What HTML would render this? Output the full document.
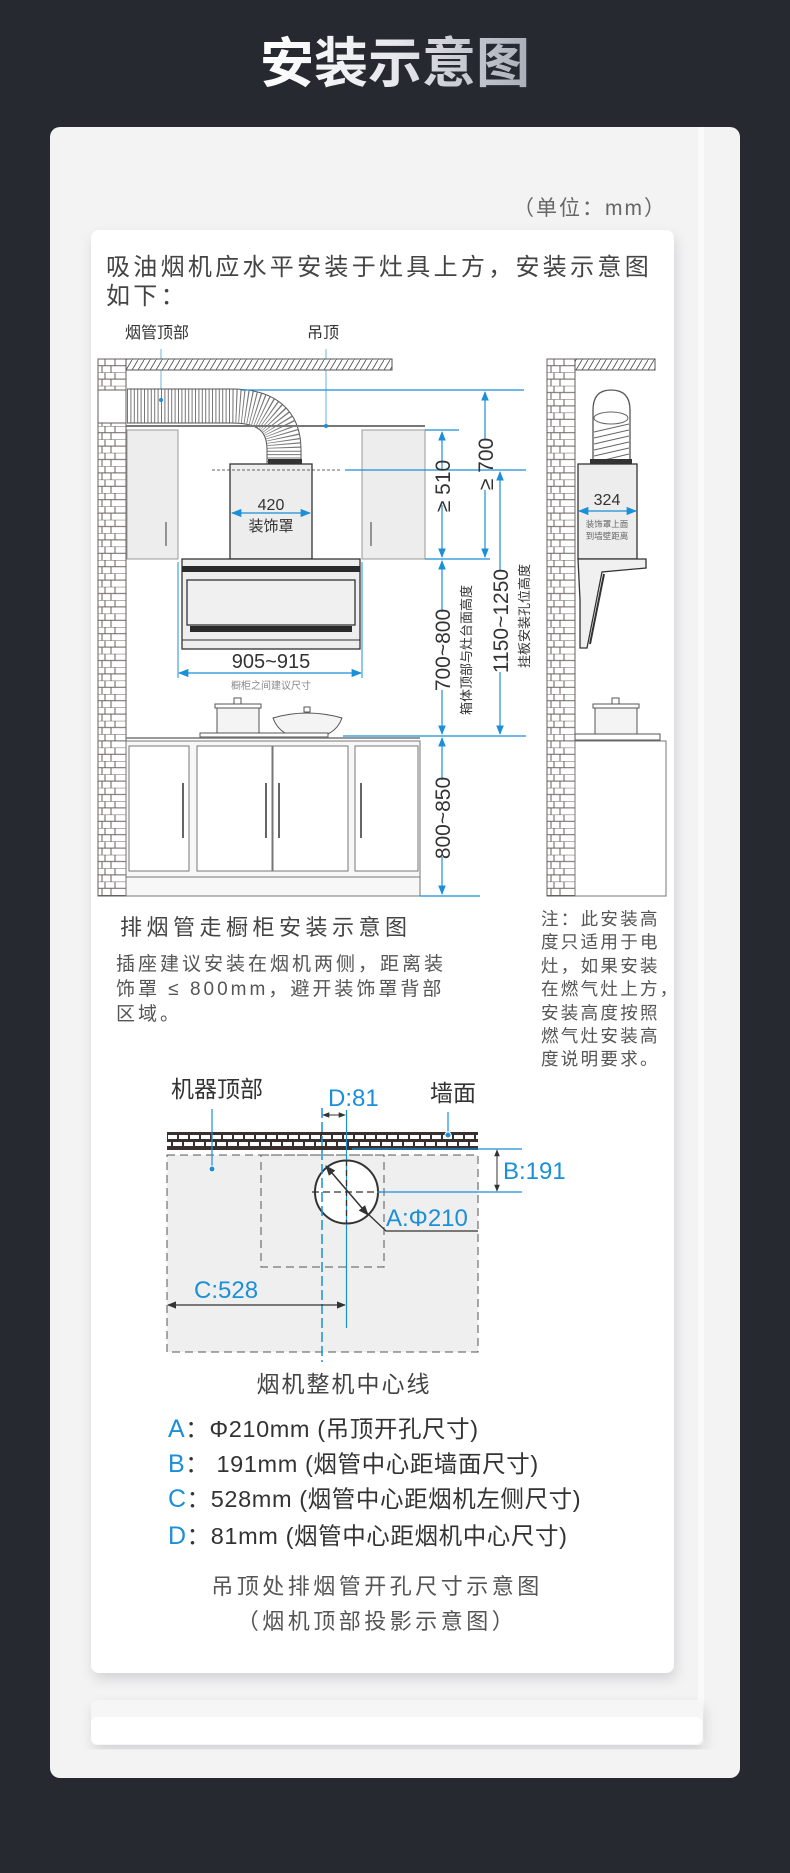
<!DOCTYPE html>
<html><head><meta charset="utf-8"><style>
html,body{margin:0;padding:0;background:#262930;}
svg{display:block}
text{font-family:"Liberation Sans","Noto Sans CJK SC",sans-serif;}
</style></head><body>
<svg width="790" height="1873" viewBox="0 0 790 1873" xmlns="http://www.w3.org/2000/svg">
<defs>
<linearGradient id="tg" x1="0" y1="0" x2="1" y2="0"><stop offset="0" stop-color="#ffffff"/><stop offset="0.5" stop-color="#e6e8ec"/><stop offset="1" stop-color="#a9aeb8"/></linearGradient>
<filter id="sh" x="-10%" y="-10%" width="120%" height="120%"><feDropShadow dx="2" dy="6" stdDeviation="6" flood-color="#000" flood-opacity="0.13"/></filter>
<pattern id="brick" x="98" y="359" width="28" height="13.4" patternUnits="userSpaceOnUse">
<rect width="28" height="13.4" fill="#fff"/>
<path d="M0 0H28M0 6.7H28M7 0V6.7M17 0V6.7M4 6.7V13.4M13 6.7V13.4" stroke="#6a5f5f" stroke-width="1" fill="none"/>
</pattern>
<pattern id="brick2" x="547" y="359" width="28" height="13.4" patternUnits="userSpaceOnUse">
<rect width="28" height="13.4" fill="#fff"/>
<path d="M0 0H28M0 6.7H28M7 0V6.7M17 0V6.7M4 6.7V13.4M13 6.7V13.4" stroke="#6a5f5f" stroke-width="1" fill="none"/>
</pattern>
<pattern id="hatch" width="6" height="10" patternUnits="userSpaceOnUse">
<rect width="6" height="10" fill="#fff"/><path d="M0 10L6 0" stroke="#555" stroke-width="0.9"/>
</pattern>
<pattern id="tb" x="167" y="1132" width="22" height="18" patternUnits="userSpaceOnUse">
<rect width="22" height="18" fill="#3a2f2f"/>
<rect x="1" y="3" width="9" height="4" fill="#fff"/><rect x="12" y="3" width="9" height="4" fill="#fff"/>
<rect x="6" y="10" width="9" height="4" fill="#fff"/><rect x="17" y="10" width="5" height="4" fill="#fff"/><rect x="0" y="10" width="4" height="4" fill="#fff"/>
</pattern>
<marker id="ab" viewBox="0 0 10 10" refX="9" refY="5" markerWidth="8" markerHeight="8" orient="auto-start-reverse"><path d="M0 1L10 5L0 9z" fill="#1b8fd8"/></marker>
<marker id="ak" viewBox="0 0 10 10" refX="9" refY="5" markerWidth="7" markerHeight="7" orient="auto-start-reverse"><path d="M0 1L10 5L0 9z" fill="#333"/></marker>
</defs>

<!-- title -->
<text x="395" y="82" font-size="54" font-weight="bold" fill="url(#tg)" text-anchor="middle">安装示意图</text>

<!-- cards -->
<rect x="50" y="127" width="690" height="1651" rx="10" fill="#f3f3f4"/>
<rect x="698" y="127" width="6" height="1618" fill="#fafafa"/>
<rect x="91" y="1700" width="612" height="45" rx="6" fill="#f6f6f6" filter="url(#sh)"/>
<rect x="91" y="1717" width="611" height="27" rx="6" fill="#fff"/>
<rect x="91" y="230" width="583" height="1443" rx="8" fill="#fff" filter="url(#sh)"/>

<text x="667" y="215" font-size="21" fill="#666" text-anchor="end" letter-spacing="2">（单位：mm）</text>
<text x="106" y="275" font-size="24" fill="#444" letter-spacing="3.3">吸油烟机应水平安装于灶具上方，安装示意图</text>
<text x="106" y="304" font-size="24" fill="#444" letter-spacing="3.3">如下：</text>

<text x="125" y="338" font-size="16" fill="#333">烟管顶部</text>
<text x="307" y="338" font-size="16" fill="#333">吊顶</text>
<line x1="161" y1="349" x2="161" y2="400" stroke="#6cb3e6" stroke-width="1"/>
<line x1="326" y1="349" x2="326" y2="426" stroke="#6cb3e6" stroke-width="1"/>

<!-- left wall -->
<rect x="98" y="359" width="28" height="537" fill="url(#brick)" stroke="#6a5f5f"/>
<rect x="126" y="359" width="266" height="11" fill="url(#hatch)" stroke="#555"/>
<rect x="98" y="390" width="28" height="33" fill="#fff" stroke="#6a5f5f"/>

<!-- duct -->
<path d="M127 406 L232 406 Q284 406 284 450 L284 464" fill="none" stroke="#555" stroke-width="35"/>
<path d="M127 406 L232 406 Q284 406 284 450 L284 464" fill="none" stroke="#fff" stroke-width="33"/>
<path d="M127 406 L232 406 Q284 406 284 450 L284 464" fill="none" stroke="#777" stroke-width="33" stroke-dasharray="1 2.4"/>
<circle cx="161" cy="400" r="2" fill="#1b8fd8"/>
<line x1="126" y1="426" x2="425" y2="426" stroke="#777" stroke-width="2"/>
<circle cx="326" cy="426" r="2" fill="#1b8fd8"/>
<!-- upper cabinets -->
<rect x="127" y="430" width="51" height="129" fill="#ededed" stroke="#999"/>
<line x1="166" y1="522" x2="166" y2="546" stroke="#777" stroke-width="1.5"/>
<rect x="362" y="430" width="63" height="129" fill="#ededed" stroke="#999"/>
<line x1="371" y1="522" x2="371" y2="546" stroke="#777" stroke-width="1.5"/>
<!-- cover -->
<rect x="268" y="459" width="34" height="5" fill="#333"/>
<rect x="230" y="464" width="82" height="95" fill="#ededed" stroke="#333" stroke-width="1.3"/>
<line x1="212" y1="470" x2="340" y2="470" stroke="#333" stroke-dasharray="3 2" stroke-width="0.8"/>
<text x="271" y="510" font-size="16" fill="#333" text-anchor="middle">420</text>
<line x1="232" y1="513" x2="310" y2="513" stroke="#1b8fd8" stroke-width="1.3" marker-start="url(#ab)" marker-end="url(#ab)"/>
<text x="271" y="531" font-size="15" fill="#333" text-anchor="middle">装饰罩</text>
<!-- hood -->
<rect x="182" y="559" width="178" height="90" fill="#eeeeee" stroke="#333" stroke-width="1.3"/>
<rect x="182" y="566" width="178" height="6" fill="#2a2a2a"/>
<rect x="187" y="580" width="168" height="45" fill="#f0f0f0" stroke="#333" stroke-width="1.3"/>
<rect x="190" y="626" width="162" height="6" fill="#2a2a2a"/>
<line x1="182" y1="640" x2="360" y2="640" stroke="#333"/>
<line x1="178" y1="562" x2="178" y2="678" stroke="#1b8fd8"/>
<line x1="362" y1="562" x2="362" y2="678" stroke="#1b8fd8"/>
<text x="271" y="668" font-size="20" fill="#333" text-anchor="middle">905~915</text>
<line x1="179" y1="673" x2="361" y2="673" stroke="#1b8fd8" stroke-width="1.3" marker-start="url(#ab)" marker-end="url(#ab)"/>
<text x="271" y="689" font-size="10" fill="#888" text-anchor="middle">橱柜之间建议尺寸</text>
<!-- pot & wok -->
<rect x="217" y="707" width="42" height="28" fill="#f4f4f4" stroke="#555"/>
<rect x="215" y="704" width="46" height="4" fill="#fff" stroke="#555"/>
<rect x="234" y="698" width="7" height="6" fill="#fff" stroke="#555"/>
<path d="M273 718 Q307 708 342 718 Q335 738 307 738 Q280 738 273 718z" fill="#f4f4f4" stroke="#555"/>
<rect x="304" y="707" width="6" height="5" fill="#fff" stroke="#555"/>
<rect x="200" y="733" width="128" height="4" fill="#fff" stroke="#555"/>
<!-- lower cabinet -->
<rect x="126" y="741" width="294" height="155" fill="#f7f7f7" stroke="#777"/>
<line x1="126" y1="738" x2="420" y2="738" stroke="#777" stroke-width="1.5"/>
<rect x="129" y="746" width="60" height="125" fill="#fff" stroke="#777"/>
<rect x="197" y="746" width="75" height="125" fill="#fff" stroke="#777"/>
<rect x="273" y="746" width="75" height="125" fill="#fff" stroke="#777"/>
<rect x="355" y="746" width="63" height="125" fill="#fff" stroke="#777"/>
<line x1="126" y1="877" x2="420" y2="877" stroke="#777"/>
<line x1="183" y1="783" x2="183" y2="838" stroke="#666" stroke-width="2"/>
<line x1="266" y1="783" x2="266" y2="838" stroke="#666" stroke-width="2"/>
<line x1="279" y1="783" x2="279" y2="838" stroke="#666" stroke-width="2"/>
<line x1="361" y1="783" x2="361" y2="838" stroke="#666" stroke-width="2"/>

<!-- blue dims -->
<g stroke="#1b8fd8" stroke-width="1.2" fill="none">
<line x1="241" y1="390" x2="524" y2="390"/>
<line x1="425" y1="430" x2="459" y2="430"/>
<line x1="345" y1="470" x2="526" y2="470"/>
<line x1="425" y1="559" x2="490" y2="559"/>
<line x1="343" y1="736" x2="526" y2="736"/>
<line x1="420" y1="896" x2="480" y2="896"/>
<line x1="442" y1="432" x2="442" y2="469" marker-start="url(#ab)"/>
<line x1="442" y1="505" x2="442" y2="557" marker-end="url(#ab)"/>
<line x1="485" y1="392" x2="485" y2="440" marker-start="url(#ab)"/>
<line x1="485" y1="490" x2="485" y2="557" marker-end="url(#ab)"/>
<line x1="442" y1="561" x2="442" y2="612" marker-start="url(#ab)"/>
<line x1="442" y1="690" x2="442" y2="734" marker-end="url(#ab)"/>
<line x1="500" y1="472" x2="500" y2="570" marker-start="url(#ab)"/>
<line x1="500" y1="672" x2="500" y2="734" marker-end="url(#ab)"/>
<line x1="442" y1="738" x2="442" y2="780" marker-start="url(#ab)"/>
<line x1="442" y1="857" x2="442" y2="894" marker-end="url(#ab)"/>
</g>
<g font-size="21" fill="#333" text-anchor="middle">
<text transform="translate(450,486) rotate(-90)">≥ 510</text>
<text transform="translate(493,464) rotate(-90)">≥ 700</text>
<text transform="translate(450,650) rotate(-90)">700~800</text>
<text transform="translate(508,621) rotate(-90)">1150~1250</text>
<text transform="translate(450,818) rotate(-90)">800~850</text>
</g>
<text transform="translate(471,650) rotate(-90)" font-size="13" fill="#333" text-anchor="middle">箱体顶部与灶台面高度</text>
<text transform="translate(529,616) rotate(-90)" font-size="13" fill="#333" text-anchor="middle">挂板安装孔位高度</text>

<!-- right side view -->
<rect x="547" y="359" width="28" height="537" fill="url(#brick2)" stroke="#6a5f5f"/>
<rect x="575" y="359" width="80" height="11" fill="url(#hatch)" stroke="#555"/>
<path d="M593 461 L593 410 Q593 390 611 390 Q630 390 630 410 L630 461" fill="#fff" stroke="#555" stroke-width="1.3"/>
<g stroke="#666" stroke-width="1"><line x1="594" y1="432" x2="629" y2="424"/><line x1="594" y1="438" x2="629" y2="430"/><line x1="594" y1="444" x2="629" y2="436"/><line x1="594" y1="450" x2="629" y2="442"/><line x1="594" y1="456" x2="629" y2="448"/><line x1="600" y1="461" x2="629" y2="454"/></g>
<ellipse cx="611" cy="418" rx="17" ry="6" fill="none" stroke="#666"/>
<rect x="590" y="459" width="42" height="5" fill="#333"/>
<rect x="578" y="464" width="59" height="95" fill="#ededed" stroke="#333" stroke-width="1.3"/>
<text x="607" y="505" font-size="16" fill="#333" text-anchor="middle">324</text>
<line x1="579" y1="511" x2="636" y2="511" stroke="#1b8fd8" stroke-width="1.3" marker-start="url(#ab)" marker-end="url(#ab)"/>
<text x="607" y="527" font-size="8.5" fill="#666" text-anchor="middle">装饰罩上面</text>
<text x="607" y="539" font-size="8.5" fill="#666" text-anchor="middle">到墙壁距离</text>
<polygon points="578,559 646,559 646,568 602,572 587,648 580,648 580,600" fill="#f0f0f0" stroke="#333" stroke-width="1.3"/>
<line x1="604" y1="574" x2="590" y2="644" stroke="#333" stroke-width="2"/>
<rect x="595" y="707" width="42" height="28" fill="#f4f4f4" stroke="#555"/>
<rect x="593" y="704" width="46" height="4" fill="#fff" stroke="#555"/>
<rect x="612" y="698" width="7" height="6" fill="#fff" stroke="#555"/>
<rect x="575" y="734" width="85" height="6" fill="#fff" stroke="#555"/>
<rect x="575" y="741" width="91" height="155" fill="#fff" stroke="#777"/>

<!-- texts -->
<text x="120" y="935" font-size="22" fill="#444" letter-spacing="4.5">排烟管走橱柜安装示意图</text>
<g font-size="19" fill="#555" letter-spacing="3">
<text x="116" y="970">插座建议安装在烟机两侧，距离装</text>
<text x="116" y="995">饰罩 ≤ 800mm，避开装饰罩背部</text>
<text x="116" y="1020">区域。</text>
</g>
<g font-size="17.5" fill="#555" letter-spacing="2.3">
<text x="541" y="925">注：此安装高</text>
<text x="541" y="948">度只适用于电</text>
<text x="541" y="972">灶，如果安装</text>
<text x="541" y="995">在燃气灶上方，</text>
<text x="541" y="1019">安装高度按照</text>
<text x="541" y="1042">燃气灶安装高</text>
<text x="541" y="1065">度说明要求。</text>
</g>

<!-- top view -->
<text x="171" y="1097" font-size="23" fill="#333">机器顶部</text>
<text x="328" y="1106" font-size="24" fill="#1b8fd8">D:81</text>
<text x="430" y="1101" font-size="23" fill="#333">墙面</text>
<rect x="167" y="1132" width="311" height="18" fill="url(#tb)"/>
<rect x="167" y="1155" width="311" height="197" fill="#efefef" stroke="#555" stroke-dasharray="8 5"/>
<rect x="261" y="1155" width="123" height="112" fill="none" stroke="#555" stroke-dasharray="8 5"/>
<circle cx="346.5" cy="1192" r="31.5" fill="#fff" stroke="#333" stroke-width="2"/>
<line x1="312" y1="1192" x2="381" y2="1192" stroke="#333" stroke-width="1.3" stroke-dasharray="7 4"/>
<line x1="322" y1="1108" x2="322" y2="1362" stroke="#1b8fd8" stroke-width="1.5" stroke-dasharray="10 4"/>
<line x1="346.5" y1="1110" x2="346.5" y2="1328" stroke="#1b8fd8" stroke-width="1.2"/>
<line x1="346.5" y1="1160" x2="346.5" y2="1224" stroke="#333" stroke-width="1.3" stroke-dasharray="6 4"/>
<line x1="323" y1="1115" x2="345" y2="1115" stroke="#333" stroke-width="1" marker-start="url(#ak)" marker-end="url(#ak)"/>
<line x1="352" y1="1149" x2="522" y2="1149" stroke="#1b8fd8" stroke-width="1.2"/>
<line x1="377" y1="1192" x2="522" y2="1192" stroke="#1b8fd8" stroke-width="1.2"/>
<line x1="497" y1="1150" x2="497" y2="1191" stroke="#333" stroke-width="1" marker-start="url(#ak)" marker-end="url(#ak)"/>
<text x="503" y="1179" font-size="24" fill="#1b8fd8">B:191</text>
<line x1="326" y1="1166" x2="368" y2="1215" stroke="#333" stroke-width="1.5" marker-start="url(#ak)" marker-end="url(#ak)"/>
<polyline points="366,1212 386,1231 478,1231" fill="none" stroke="#333" stroke-width="1.3"/>
<text x="386" y="1226" font-size="24" fill="#1b8fd8">A:Φ210</text>
<text x="194" y="1298" font-size="24" fill="#1b8fd8">C:528</text>
<line x1="168" y1="1305" x2="345" y2="1305" stroke="#333" stroke-width="1.3" marker-start="url(#ak)" marker-end="url(#ak)"/>
<line x1="212" y1="1109" x2="212" y2="1169" stroke="#1b8fd8" stroke-width="1.2"/>
<circle cx="212" cy="1169" r="3" fill="#1b8fd8" stroke="#fff" stroke-width="1"/>
<line x1="448" y1="1112" x2="448" y2="1135" stroke="#1b8fd8" stroke-width="1.2"/>
<circle cx="448" cy="1135" r="3" fill="#1b8fd8" stroke="#fff" stroke-width="1"/>
<text x="344" y="1392" font-size="23" fill="#444" text-anchor="middle" letter-spacing="2">烟机整机中心线</text>

<!-- legend -->
<g font-size="23.5" fill="#333" letter-spacing="0.6">
<text x="168" y="1437"><tspan fill="#1b8fd8" font-size="25">A</tspan>：Φ210mm (吊顶开孔尺寸)</text>
<text x="168" y="1472"><tspan fill="#1b8fd8" font-size="25">B</tspan>： 191mm (烟管中心距墙面尺寸)</text>
<text x="168" y="1507"><tspan fill="#1b8fd8" font-size="25">C</tspan>：528mm (烟管中心距烟机左侧尺寸)</text>
<text x="168" y="1544"><tspan fill="#1b8fd8" font-size="25">D</tspan>：81mm (烟管中心距烟机中心尺寸)</text>
</g>
<text x="377" y="1594" font-size="22" fill="#555" text-anchor="middle" letter-spacing="3.5">吊顶处排烟管开孔尺寸示意图</text>
<text x="377" y="1629" font-size="22" fill="#555" text-anchor="middle" letter-spacing="3.5">（烟机顶部投影示意图）</text>
</svg>
</body></html>
